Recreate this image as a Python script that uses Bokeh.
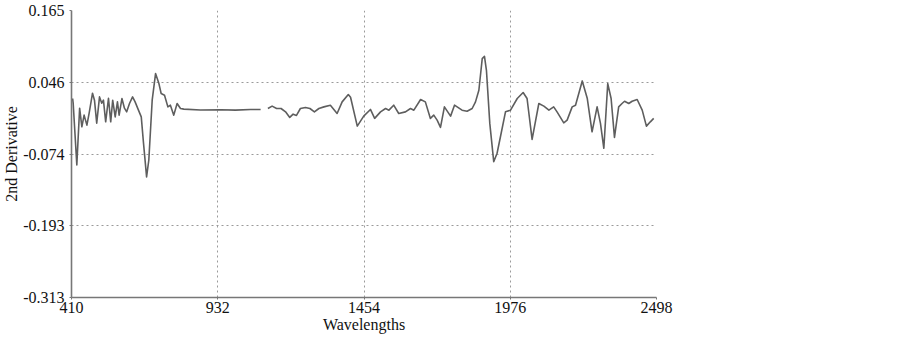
from bokeh.plotting import figure
from bokeh.models import FixedTicker, Range1d
from bokeh.embed import file_html
from bokeh.resources import INLINE

# Segment 1 (short wavelengths)
wl_a = [414, 416, 429, 439, 447, 455, 465, 473, 485, 492, 500, 510, 518, 524, 532, 542, 550, 557, 566, 574,
        580, 590, 599, 607, 617, 628, 637, 649, 659, 667, 678, 686, 698, 710, 722, 730, 742, 754, 763, 775,
        787, 799, 811, 870, 942, 995, 1049, 1085]
d2_a = [0.0184, 0.0106, -0.0923, 0.0023, -0.0287, -0.0093, -0.0259, -0.0060, 0.0272, 0.0156, -0.0226, 0.0211,
        0.0106, 0.0156, -0.0204, 0.0189, -0.0204, 0.0156, -0.0121, 0.0128, -0.0093, 0.0184, 0.0023, -0.0038,
        0.0101, 0.0211, 0.0128, -0.0010, -0.0121, -0.0558, -0.1122, -0.0840, 0.0156, 0.0599, 0.0433, 0.0267,
        0.0239, 0.0045, 0.0073, -0.0093, 0.0101, 0.0018, 0.0007, -0.0007, -0.0002, -0.0010, 0.0002, 0.0002]

# Segment 2 (longer wavelengths)
wl_b = [1111, 1126, 1142, 1158, 1174, 1189, 1201, 1213, 1227, 1245, 1261, 1277, 1293, 1311, 1334, 1358, 1376,
        1398, 1406, 1430, 1453, 1477, 1492, 1513, 1531, 1543, 1560, 1578, 1602, 1620, 1632, 1656, 1673, 1691,
        1703, 1715, 1727, 1741, 1763, 1777, 1804, 1822, 1840, 1852, 1864, 1876, 1884, 1891, 1903, 1917, 1929,
        1941, 1959, 1977, 2001, 2022, 2036, 2054, 2078, 2096, 2114, 2131, 2143, 2167, 2179, 2197, 2209, 2233,
        2251, 2268, 2286, 2298, 2310, 2324, 2336, 2348, 2363, 2375, 2384, 2399, 2411, 2429, 2447, 2462, 2476, 2488]
d2_b = [0.0018, 0.0057, 0.0018, 0.0018, -0.0038, -0.0131, -0.0076, -0.0098, 0.0018, 0.0035, 0.0018, -0.0038,
        0.0018, 0.0045, 0.0073, -0.0065, 0.0128, 0.0251, 0.0206, -0.0275, -0.0109, 0.0002, -0.0147, -0.0038,
        0.0018, -0.0010, 0.0073, -0.0065, -0.0038, 0.0018, -0.0010, 0.0168, 0.0128, -0.0147, -0.0093, -0.0176,
        -0.0297, 0.0045, -0.0109, 0.0073, -0.0010, -0.0027, 0.0018, 0.0128, 0.0322, 0.0848, 0.0887, 0.0654,
        -0.0230, -0.0868, -0.0728, -0.0453, -0.0038, -0.0010, 0.0184, 0.0284, 0.0184, -0.0496, 0.0101, 0.0057,
        -0.0010, 0.0045, -0.0038, -0.0221, -0.0176, 0.0045, 0.0073, 0.0477, 0.0184, -0.0370, 0.0045, -0.0230,
        -0.0645, 0.0433, 0.0184, -0.0463, 0.0045, 0.0101, 0.0139, 0.0101, 0.0139, 0.0168, -0.0010, -0.0276,
        -0.0204, -0.0147]

x_ticks = [410, 932, 1454, 1976, 2498]
y_ticks = [-0.313, -0.1935, -0.074, 0.0455, 0.165]
y_labels = ["-0.313", "-0.193", "-0.074", "0.046", "0.165"]

FONT = "Liberation Serif"

p = figure(width=880, height=335, output_backend="svg", toolbar_location=None,
           x_range=Range1d(410, 2498), y_range=Range1d(-0.313, 0.165),
           min_border_left=71, min_border_right=224, min_border_top=10, min_border_bottom=37)
p.outline_line_color = None
p.background_fill_color = "white"

p.line(wl_a, d2_a, line_color="#5e5e5e", line_width=1.6, line_join="round")
p.line(wl_b, d2_b, line_color="#5e5e5e", line_width=1.6, line_join="round")

p.xaxis.ticker = FixedTicker(ticks=x_ticks)
p.yaxis.ticker = FixedTicker(ticks=y_ticks)
p.yaxis.major_label_overrides = {t: l for t, l in zip(y_ticks, y_labels)}
p.xaxis.major_label_overrides = {t: str(t) for t in x_ticks}

for ax in (p.xaxis[0], p.yaxis[0]):
    ax.axis_line_color = "#777777"
    ax.axis_line_width = 1.6
    ax.major_tick_line_color = "#777777"
    ax.major_tick_in = 0
    ax.major_tick_out = 2
    ax.minor_tick_line_color = None
    ax.major_label_text_font = FONT
    ax.major_label_text_font_size = "16px"
    ax.major_label_text_color = "#111111"
    ax.axis_label_text_font = FONT
    ax.axis_label_text_font_size = "16px"
    ax.axis_label_text_font_style = "normal"
    ax.axis_label_text_color = "#111111"

p.xaxis.axis_label = "Wavelengths"
p.yaxis.axis_label = "2nd Derivative"
p.xaxis.major_label_standoff = 2
p.xaxis.axis_label_standoff = 0
p.yaxis.major_label_standoff = 5
p.yaxis.axis_label_standoff = 0

p.grid.grid_line_color = "#9a9a9a"
p.grid.grid_line_dash = "2 3"
p.grid.grid_line_width = 1

open("out.html", "w").write(file_html(p, INLINE))
